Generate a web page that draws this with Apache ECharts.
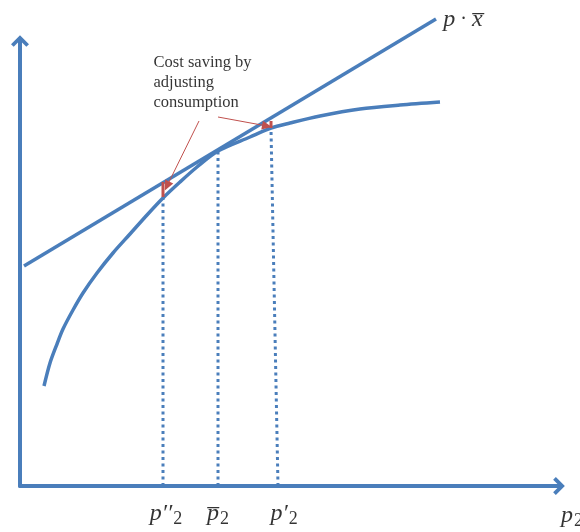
<!DOCTYPE html>
<html>
<head>
<meta charset="utf-8">
<script src="https://cdn.jsdelivr.net/npm/echarts@6/dist/echarts.min.js"></script>
<style>html,body{margin:0;padding:0;background:#fff}#c{width:580px;height:532px}</style>
</head>
<body>
<div id="c"></div>
<script>
// Conceptual diagram: units are offsets from the axis origin
const budgetLine = [[4, 220], [416, 467]];
const curveX = [24, 30, 37, 43, 53, 63, 77, 93, 110, 127, 143, 160, 177, 198, 230, 251, 270, 300, 340, 380, 420];
const curveY = [100, 123, 142, 157, 176, 193, 213, 233, 252, 271, 288, 304, 319, 335, 349, 358, 363, 370, 377, 381, 384];
const dropTopX = [143, 198, 251];
const dropTopY = [288, 336, 357];
const dropBottomX = [143, 198, 258];
const savingX = [143, 251];
const savingLow = [289, 358];
const savingHigh = [304, 365];
const arrowFrom = [[179, 365], [198, 369]];
const arrowTo = [[147, 300], [247, 360]];
const tickLabels = ["{i|p\u2032\u2032}{s|2}", "{i|p\u0305}{s|2}", "{i|p\u2032}{s|2}", "{i|p}{s|2}"];
const tickX = [146, 198, 264, 552];
const tickY = [-28, -28, -28, -30];
const lineLabel = "{i|p}{n| \u00b7 }{i|x\u0305}";
const lineLabelPos = [443, 466];
const noteText = "Cost saving by\nadjusting\nconsumption";
const notePos = [133, 403];

const blue = '#4a7ebb';
const red = '#c0504d';
const rich = {
  i: {fontFamily: 'Liberation Serif', fontStyle: 'italic', fontSize: 24, color: '#000'},
  n: {fontFamily: 'Liberation Serif', fontSize: 20, color: '#000'},
  s: {fontFamily: 'Liberation Serif', fontSize: 18, color: '#000', padding: [10, 0, 0, 1]}
};
const arrowPath = 'path://M10,0 L20,10 L17,13 L10,6 L3,13 L0,10 Z';

const series = [];
series.push({type: 'line', data: budgetLine, clip: false, symbol: 'none',
  lineStyle: {color: blue, width: 3.5}, z: 3});
series.push({type: 'line', data: curveX.map((x, i) => [x, curveY[i]]), symbol: 'none',
  smooth: 0.3, lineStyle: {color: blue, width: 3.5}, z: 3});
dropTopX.forEach((x, i) => {
  series.push({type: 'line', data: [[dropBottomX[i], 0], [x, dropTopY[i]]], symbol: 'none',
    lineStyle: {color: blue, width: 3, type: [3, 3.5]}, z: 2});
});
savingX.forEach((x, i) => {
  series.push({type: 'line', data: [[x, savingLow[i]], [x, savingHigh[i]]], symbol: 'none',
    lineStyle: {color: red, width: 3, cap: 'butt'}, z: 4});
});
series.push({type: 'line', data: [], symbol: 'none',
  markLine: {silent: true, symbol: ['none', 'triangle'], symbolSize: [9, 10], animation: false,
    label: {show: false}, lineStyle: {color: red, width: 1, type: 'solid'},
    data: arrowFrom.map((f, i) => [{coord: f, symbol: 'none'}, {coord: arrowTo[i]}])}, z: 5});
series.push({type: 'scatter', clip: false, symbolSize: 1, itemStyle: {color: 'rgba(0,0,0,0)'},
  data: tickX.map((x, i) => ({value: [x, tickY[i]], label: {formatter: tickLabels[i]}})),
  label: {show: true, position: 'inside', rich: rich}, z: 6});
series.push({type: 'scatter', clip: false, symbolSize: 1, itemStyle: {color: 'rgba(0,0,0,0)'},
  data: [{value: lineLabelPos, label: {formatter: lineLabel}}],
  label: {show: true, position: 'inside', rich: rich}, z: 6});
series.push({type: 'scatter', clip: false, symbolSize: 1, itemStyle: {color: 'rgba(0,0,0,0)'},
  data: [{value: notePos}],
  label: {show: true, position: 'right', distance: 0, formatter: noteText, align: 'left',
    fontFamily: 'Liberation Serif', fontSize: 16.5, lineHeight: 20, color: '#000'}, z: 6});

const chart = echarts.init(document.getElementById('c'), null, {renderer: 'canvas'});
chart.setOption({
  animation: false,
  grid: {left: 20, right: 21, top: 41, bottom: 46},
  xAxis: {type: 'value', min: 0, max: 539, splitLine: {show: false}, axisTick: {show: false},
    axisLabel: {show: false},
    axisLine: {show: true, onZero: false, symbol: ['none', arrowPath], symbolSize: [18, 12],
      lineStyle: {color: blue, width: 4}}},
  yAxis: {type: 'value', min: 0, max: 445, splitLine: {show: false}, axisTick: {show: false},
    axisLabel: {show: false},
    axisLine: {show: true, onZero: false, symbol: ['none', arrowPath], symbolSize: [18, 12],
      lineStyle: {color: blue, width: 4}}},
  series: series
});
</script>
</body>
</html>
